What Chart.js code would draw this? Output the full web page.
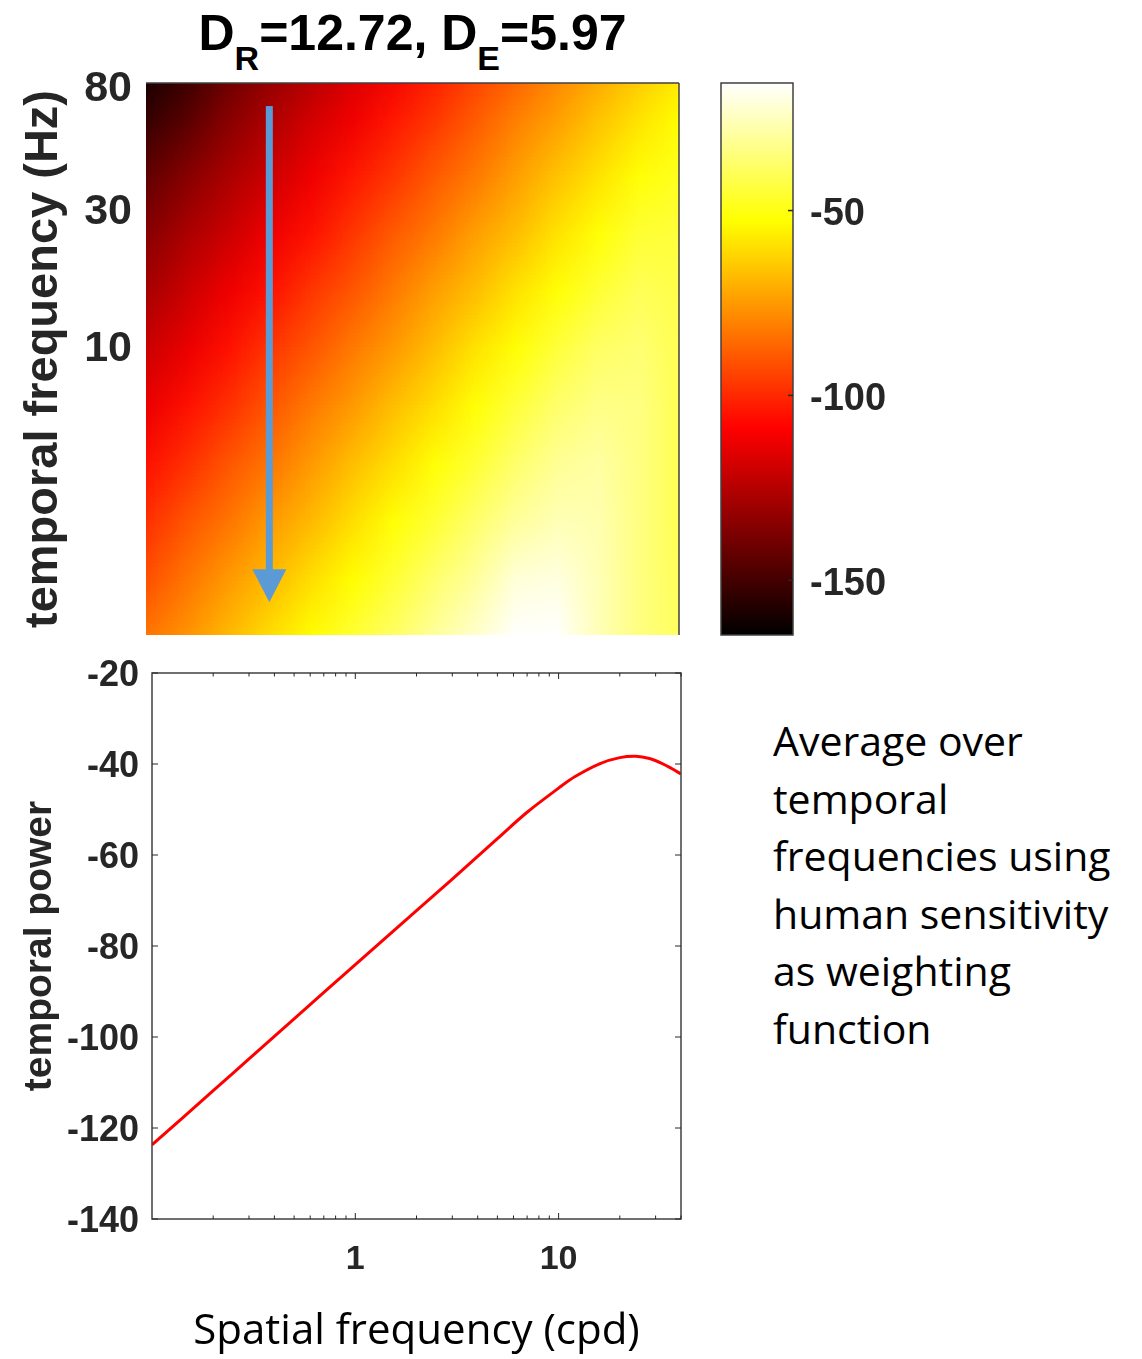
<!DOCTYPE html>
<html>
<head>
<meta charset="utf-8">
<script src="https://cdn.jsdelivr.net/npm/chart.js@4.4.1/dist/chart.umd.min.js"></script>
<style>
    body { margin: 0; background: #fff; width: 1142px; height: 1359px; position: relative; overflow: hidden; }
    canvas { position: absolute; }
    #title { position: absolute; left: 146px; top: 3px; width: 533px; text-align: center;
             font: bold 50px "Liberation Sans", Arial, sans-serif; line-height: 60px; color: #000; white-space: nowrap; }
    #title .sub { font-size: 34px; position: relative; top: 20px; }
    #note { position: absolute; left: 773px; top: 712px; font: 41px "Open Sans", sans-serif;
            line-height: 57.5px; color: #000; white-space: nowrap; }
</style>
</head>
<body>
<div id="title">D<span class="sub">R</span>=12.72, D<span class="sub">E</span>=5.97</div>
<canvas id="heatChart" width="682" height="640" style="left:0;top:0"></canvas>
<canvas id="barChart" width="240" height="640" style="left:700px;top:0"></canvas>
<canvas id="lineChart" width="700" height="719" style="left:0;top:640px"></canvas>
<div id="note">Average over<br>temporal<br>frequencies using<br>human sensitivity<br>as weighting<br>function</div>

<script>
// map grid: spatial frequency (cpd) columns, temporal frequency (Hz) rows
const heatSf = [0.1, 0.16, 0.25, 0.4, 0.63, 1, 1.6, 2.5, 4, 6.3, 10, 16, 25, 40];
const heatTf = [1, 1.6, 2.5, 4, 6.3, 10, 16, 25, 40, 63, 100];
// power (dB), one row per temporal frequency, lowest first
const heatRows = [
    [-83, -76, -68, -60, -53, -45, -38, -30, -23, -14, -15, -26, -34, -39],
    [-91, -83, -75, -68, -60, -53, -45, -37, -30, -21, -20, -26, -34, -40],
    [-98, -90, -83, -75, -68, -60, -52, -45, -37, -30, -26, -27, -34, -41],
    [-105, -98, -90, -83, -75, -67, -60, -52, -45, -37, -31, -29, -34, -41],
    [-113, -105, -98, -90, -82, -75, -67, -60, -52, -44, -37, -33, -34, -41],
    [-120, -113, -105, -97, -90, -82, -75, -67, -59, -52, -44, -38, -36, -41],
    [-128, -120, -112, -105, -97, -90, -82, -74, -67, -59, -52, -45, -40, -42],
    [-135, -127, -120, -112, -105, -97, -89, -82, -74, -67, -59, -52, -45, -44],
    [-143, -135, -127, -120, -112, -104, -97, -89, -82, -74, -66, -59, -52, -48],
    [-153, -145, -135, -127, -119, -112, -104, -97, -89, -81, -74, -66, -59, -53],
    [-162, -154, -143, -134, -127, -119, -112, -104, -96, -89, -81, -74, -66, -59]
];
const colorLimits = [-164.8, -15.5];
const colorbarTicks = [-150, -100, -50];
const tfTicks = [10, 30, 80];

// blue arrow on the map: spatial frequency, start and end temporal frequency
const arrowSf = 0.4;
const arrowTf = [69, 1.3];

// averaged curve
const sfPoints = [0.1, 0.2, 0.3, 0.5, 1, 2, 3, 5, 7, 10, 12, 16, 20, 24, 28, 32, 36, 40];
const powerValues = [-123.7, -111.8, -104.8, -96.0, -84.1, -72.2, -65.3, -56.4, -50.6, -45.3, -42.8, -39.9, -38.6, -38.3, -38.8, -39.8, -41.0, -42.2];
const sfTicks = [1, 10];
const sfMinorTicks = [0.2, 0.3, 0.4, 0.5, 0.6, 0.7, 0.8, 0.9, 2, 3, 4, 5, 6, 7, 8, 9, 20, 30, 40];
const powerTicks = [-140, -120, -100, -80, -60, -40, -20];

const axisGrey = '#262626';
const boldFont = (size) => ({ family: "'Liberation Sans', Arial, sans-serif", size: size, weight: 'bold' });

// MATLAB "hot" colormap
function hot(t) {
    const c = (v) => Math.round(255 * Math.min(1, Math.max(0, v)));
    return [c(t / 0.375), c((t - 0.375) / 0.375), c((t - 0.75) / 0.25)];
}

// small image, one pixel per grid cell, top row = highest temporal frequency
const heatImage = document.createElement('canvas');
heatImage.width = heatSf.length;
heatImage.height = heatTf.length;
(() => {
    const octx = heatImage.getContext('2d');
    const img = octx.createImageData(heatImage.width, heatImage.height);
    heatRows.forEach((row, r) => {
        const py = heatTf.length - 1 - r;
        row.forEach((v, c) => {
            const rgb = hot((v - colorLimits[0]) / (colorLimits[1] - colorLimits[0]));
            const k = (py * heatImage.width + c) * 4;
            img.data[k] = rgb[0];
            img.data[k + 1] = rgb[1];
            img.data[k + 2] = rgb[2];
            img.data[k + 3] = 255;
        });
    });
    octx.putImageData(img, 0, 0);
})();

function line(ctx, x1, y1, x2, y2) {
    ctx.beginPath();
    ctx.moveTo(x1, y1);
    ctx.lineTo(x2, y2);
    ctx.stroke();
}

// keep the plot box where it is, whatever the size of the end labels
function fixedWidth(w) {
    return (axis) => {
        axis.width = w;
        axis.paddingTop = 0;
        axis.paddingBottom = 0;
    };
}

// Heat map
const heatPlugin = {
    id: 'heatmap',
    beforeDatasetsDraw(chart) {
        const { ctx, chartArea: a } = chart;
        const xs = chart.scales.x, ys = chart.scales.y;
        const x0 = xs.getPixelForValue(heatSf[0]);
        const x1 = xs.getPixelForValue(heatSf[heatSf.length - 1]);
        const yb = ys.getPixelForValue(heatTf[0]);
        const yt = ys.getPixelForValue(heatTf[heatTf.length - 1]);
        const sx = (x1 - x0) / (heatSf.length - 1);
        const sy = (yb - yt) / (heatTf.length - 1);
        ctx.save();
        ctx.beginPath();
        ctx.rect(a.left, a.top, a.right - a.left, a.bottom - a.top);
        ctx.clip();
        ctx.imageSmoothingEnabled = true;
        ctx.drawImage(heatImage, x0 - sx / 2, yt - sy / 2, sx * heatSf.length, sy * heatTf.length);
        ctx.restore();
    },
    afterDraw(chart) {
        const { ctx, chartArea: a } = chart;
        const xs = chart.scales.x, ys = chart.scales.y;
        ctx.save();
        ctx.strokeStyle = '#404040';
        ctx.lineWidth = 1.5;
        line(ctx, a.left, a.top, a.right, a.top);
        line(ctx, a.right, a.top, a.right, a.bottom);

        // arrow
        const x = xs.getPixelForValue(arrowSf);
        const yStart = ys.getPixelForValue(arrowTf[0]);
        const yTip = ys.getPixelForValue(arrowTf[1]);
        const head = 33;
        ctx.fillStyle = '#5b9bd5';
        ctx.fillRect(x - 3.5, yStart, 7, yTip - head - yStart + 1);
        ctx.beginPath();
        ctx.moveTo(x - 17, yTip - head);
        ctx.lineTo(x + 17, yTip - head);
        ctx.lineTo(x, yTip);
        ctx.closePath();
        ctx.fill();
        ctx.restore();
    }
};

new Chart(document.getElementById('heatChart'), {
    type: 'scatter',
    data: { datasets: [] },
    options: {
        responsive: false,
        animation: false,
        layout: { padding: { top: 83, right: 3, bottom: 5, left: 0 } },
        plugins: { legend: { display: false }, tooltip: { enabled: false } },
        scales: {
            x: { type: 'logarithmic', min: 0.1, max: 40, display: false },
            y: {
                type: 'logarithmic', min: 1, max: 83,
                afterBuildTicks: (axis) => { axis.ticks = tfTicks.map(v => ({ value: v })); },
                afterFit: fixedWidth(146),
                ticks: { font: boldFont(43), color: axisGrey, padding: 14, labelOffset: 2, callback: (v) => String(v) },
                grid: { display: false, drawTicks: false },
                border: { display: false },
                title: { display: true, text: 'temporal frequency (Hz)', font: boldFont(47), color: axisGrey, padding: { top: 16, bottom: 0 } }
            }
        }
    },
    plugins: [heatPlugin]
});

// Colour bar
const colorbarPlugin = {
    id: 'colorbar',
    beforeDatasetsDraw(chart) {
        const { ctx, chartArea: a } = chart;
        const ys = chart.scales.y;
        const yLo = ys.getPixelForValue(colorLimits[0]);
        const yHi = ys.getPixelForValue(colorLimits[1]);
        const grad = ctx.createLinearGradient(0, yLo, 0, yHi);
        [0, 0.375, 0.75, 1].forEach(t => {
            const c = hot(t);
            grad.addColorStop(t, `rgb(${c[0]},${c[1]},${c[2]})`);
        });
        ctx.save();
        ctx.fillStyle = grad;
        ctx.fillRect(a.left, a.top, a.right - a.left, a.bottom - a.top);
        ctx.strokeStyle = '#404040';
        ctx.lineWidth = 1.5;
        ctx.strokeRect(a.left, a.top, a.right - a.left, a.bottom - a.top);
        ctx.strokeStyle = axisGrey;
        colorbarTicks.forEach(v => {
            const y = ys.getPixelForValue(v);
            line(ctx, a.right, y, a.right - 5, y);
        });
        ctx.restore();
    }
};

new Chart(document.getElementById('barChart'), {
    type: 'scatter',
    data: { datasets: [] },
    options: {
        responsive: false,
        animation: false,
        layout: { padding: { top: 83, right: 0, bottom: 5, left: 21 } },
        plugins: { legend: { display: false }, tooltip: { enabled: false } },
        scales: {
            x: { type: 'linear', min: 0, max: 1, display: false },
            y: {
                type: 'linear', position: 'right', min: colorLimits[0], max: colorLimits[1],
                afterBuildTicks: (axis) => { axis.ticks = colorbarTicks.map(v => ({ value: v })); },
                afterFit: fixedWidth(147),
                ticks: { font: boldFont(38), color: axisGrey, padding: 17, labelOffset: 4, callback: (v) => String(v) },
                grid: { display: false, drawTicks: false },
                border: { display: false }
            }
        }
    },
    plugins: [colorbarPlugin]
});

// Averaged curve
const boxPlugin = {
    id: 'matlabBox',
    afterDraw(chart) {
        const { ctx, chartArea: a } = chart;
        const xs = chart.scales.x, ys = chart.scales.y;
        ctx.save();
        ctx.strokeStyle = '#404040';
        ctx.lineWidth = 1.5;
        ctx.strokeRect(a.left, a.top, a.right - a.left, a.bottom - a.top);
        ctx.strokeStyle = axisGrey;
        ctx.lineWidth = 1;
        powerTicks.forEach(v => {
            const y = ys.getPixelForValue(v);
            line(ctx, a.left, y, a.left + 6, y);
            line(ctx, a.right, y, a.right - 6, y);
        });
        sfTicks.forEach(v => {
            const x = xs.getPixelForValue(v);
            line(ctx, x, a.bottom, x, a.bottom - 6);
            line(ctx, x, a.top, x, a.top + 6);
        });
        sfMinorTicks.forEach(v => {
            const x = xs.getPixelForValue(v);
            line(ctx, x, a.bottom, x, a.bottom - 3.5);
            line(ctx, x, a.top, x, a.top + 3.5);
        });
        ctx.restore();
    }
};

new Chart(document.getElementById('lineChart'), {
    type: 'line',
    data: {
        datasets: [{
            data: sfPoints.map((x, i) => ({ x: x, y: powerValues[i] })),
            borderColor: '#ff0000',
            borderWidth: 3,
            pointRadius: 0,
            tension: 0.35,
            fill: false
        }]
    },
    options: {
        responsive: false,
        animation: false,
        layout: { padding: { top: 33, right: 19, bottom: 0, left: 0 } },
        plugins: { legend: { display: false }, tooltip: { enabled: false } },
        scales: {
            x: {
                type: 'logarithmic', min: 0.1, max: 40,
                afterBuildTicks: (axis) => { axis.ticks = sfTicks.map(v => ({ value: v })); },
                afterFit: (axis) => { axis.height = 140; },
                ticks: { font: boldFont(34), color: axisGrey, padding: 20, maxRotation: 0, callback: (v) => String(v) },
                grid: { display: false, drawTicks: false },
                border: { display: false },
                title: { display: true, text: 'Spatial frequency (cpd)', font: { family: "'Open Sans', sans-serif", size: 42 }, color: '#000', padding: { top: 0, bottom: 2 } }
            },
            y: {
                type: 'linear', min: -140, max: -20,
                afterBuildTicks: (axis) => { axis.ticks = powerTicks.map(v => ({ value: v })); },
                afterFit: fixedWidth(152),
                ticks: { font: boldFont(36), color: axisGrey, padding: 13, labelOffset: 3, callback: (v) => String(v) },
                grid: { display: false, drawTicks: false },
                border: { display: false },
                title: { display: true, text: 'temporal power', font: boldFont(39), color: axisGrey, padding: { top: 17, bottom: 0 } }
            }
        }
    },
    plugins: [boxPlugin]
});
</script>
</body>
</html>
